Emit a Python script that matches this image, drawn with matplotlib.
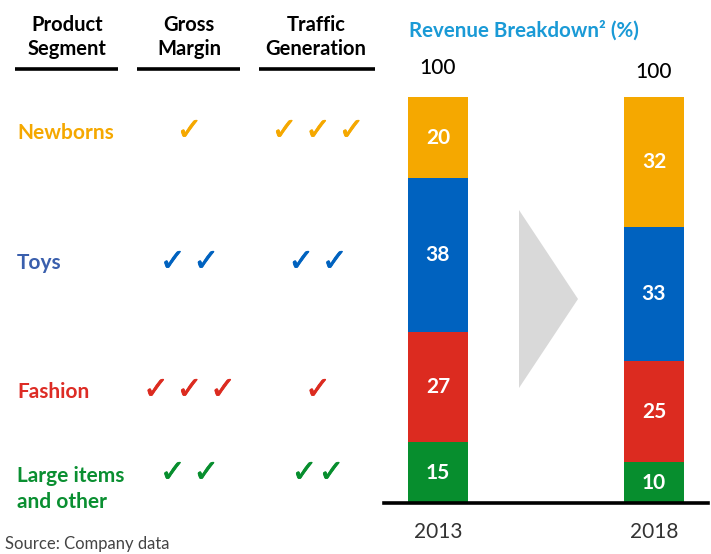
import matplotlib
matplotlib.use("Agg")
import matplotlib.pyplot as plt
from matplotlib.patches import Polygon
import matplotlib.patheffects as pe

plt.rcParams["font.family"] = ["Lato", "DejaVu Sans"]

# data
segments = ["Newborns", "Toys", "Fashion", "Large items\nand other"]
years = ["2013", "2018"]
share_2013 = [20, 38, 27, 15]
share_2018 = [32, 33, 25, 10]
totals = [100, 100]
gross_margin_checks = [1, 2, 3, 2]
traffic_checks = [3, 2, 1, 2]

label_colors = ["#f5a800", "#3a5fad", "#dd2c25", "#0a8f31"]
bar_colors = ["#f5a800", "#0062bf", "#dc2b20", "#078e2e"]
check_colors = ["#f5a800", "#0062bf", "#dc2b20", "#078e2e"]

W, H = 711, 554
fig = plt.figure(figsize=(W / 100, H / 100), dpi=100)

# overlay axes in pixel coordinates for the table part
ov = fig.add_axes([0, 0, 1, 1])
ov.set_xlim(0, W)
ov.set_ylim(H, 0)
ov.axis("off")

# column headers
headers = ["Product\nSegment", "Gross\nMargin", "Traffic\nGeneration"]
head_x = [67, 189, 316]
rule_spans = [(15, 118), (137, 240), (259, 375)]
for hx, txt, (x0, x1) in zip(head_x, headers, rule_spans):
    ov.text(hx, 37, txt, ha="center", va="center", fontsize=14.5,
            fontweight="bold", color="black", linespacing=1.3)
    ov.plot([x0, x1], [68.5, 68.5], color="black", lw=2.6,
            solid_capstyle="butt")

# row labels and check marks
row_y = [133, 263, 392, 489]
check_y = [131, 262, 390, 473]
check_gap = [33.5, 33.5, 33.5, 33.5]
tg_gap = [33.5, 33.5, 33.5, 27]
thick = [pe.withStroke(linewidth=0.6, foreground=c) for c in check_colors]
for i, seg in enumerate(segments):
    ov.text(17, row_y[i], seg, ha="left", va="center", fontsize=15,
            fontweight="bold", color=label_colors[i], linespacing=1.4)
    n = gross_margin_checks[i]
    for k in range(n):
        cx = 189.5 + (k - (n - 1) / 2) * check_gap[i]
        ov.text(cx, check_y[i], "\u2713", ha="center", va="center",
                fontsize=22, color=check_colors[i], family="DejaVu Sans",
                path_effects=[thick[i]])
    n = traffic_checks[i]
    for k in range(n):
        cx = 318 + (k - (n - 1) / 2) * tg_gap[i]
        ov.text(cx, check_y[i], "\u2713", ha="center", va="center",
                fontsize=22, color=check_colors[i], family="DejaVu Sans",
                path_effects=[thick[i]])

# grey arrow between bars
ov.add_patch(Polygon([(519, 210), (578, 299), (519, 388)], closed=True,
                     facecolor="#d9d9d9", edgecolor="none"))

ov.text(409, 30, "Revenue Breakdown\u00b2 (%)", ha="left", va="center",
        fontsize=14.8, fontweight="bold", color="#1a9ad6")

ov.text(5, 552, "Source: Company data", ha="left", va="bottom", fontsize=12,
        color="#444444")

# stacked bars
bx0, bx1 = 384 / W, 708 / W
by0, by1 = (H - 503) / H, (H - 97) / H
ax = fig.add_axes([bx0, by0, bx1 - bx0, by1 - by0])
ax.set_facecolor("none")
ax.set_xlim(-0.25, 1.25)
ax.set_ylim(0, 100)

data = [share_2013, share_2018]
width = 0.278
for j, vals in enumerate(data):
    bottom = 0
    for i in reversed(range(len(vals))):
        v = vals[i]
        ax.bar(j, v, width=width, bottom=bottom, color=bar_colors[i],
               edgecolor="none")
        ax.text(j, bottom + v / 2, str(v), ha="center", va="center",
                fontsize=15, fontweight="bold", color="white")
        bottom += v
    ax.annotate(str(totals[j]), (j, bottom), xytext=(0, 21 - 3 * j),
                textcoords="offset points", ha="center", va="center",
                fontsize=15, fontweight="medium", color="black",
                annotation_clip=False)

for s in ["top", "right", "left"]:
    ax.spines[s].set_visible(False)
ax.spines["bottom"].set_linewidth(2.6)
ax.set_yticks([])
ax.set_xticks([0, 1])
ax.set_xticklabels(years, fontsize=15, color="#333333")
ax.tick_params(axis="x", length=0, pad=14)

fig.savefig("out.png", dpi=100)
